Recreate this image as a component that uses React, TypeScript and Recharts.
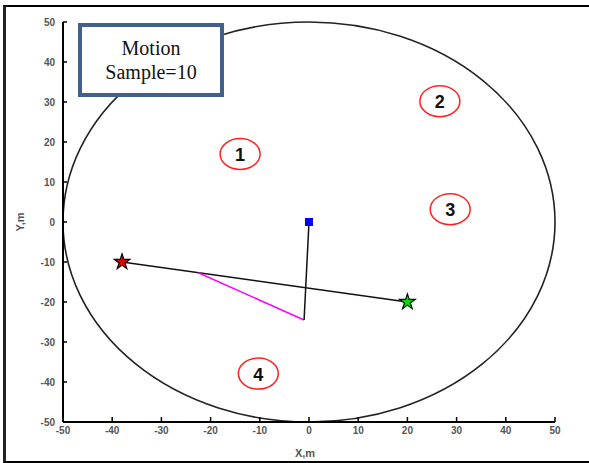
import * as React from "react"
import {
    ScatterChart,
    Scatter,
    XAxis,
    YAxis,
    ReferenceArea,
    Symbols,
} from "recharts"

// axis ticks (metres)
const xTicks = [-50, -40, -30, -20, -10, 0, 10, 20, 30, 40, 50]
const yTicks = [-50, -40, -30, -20, -10, 0, 10, 20, 30, 40, 50]

// coverage boundary radius
const RADIUS = 50

// marks
const startPoint = [{ x: -38, y: -10 }]
const endPoint = [{ x: 20, y: -20 }]
const anchorPoint = [{ x: 0, y: 0 }]
const pathLine = [{ x: -38, y: -10 }, { x: 20, y: -20 }]
const dropLine = [{ x: 0, y: 0 }, { x: -1, y: -24.5 }]
const projLine = [{ x: -22.5, y: -12.7 }, { x: -1, y: -24.5 }]
const regions = [
    { x: -14, y: 17, label: "1" },
    { x: 26.6, y: 30.2, label: "2" },
    { x: 28.7, y: 3.2, label: "3" },
    { x: -10.3, y: -37.9, label: "4" },
]

const tickStyle = { fontSize: 10, fontWeight: "bold", fill: "#555", fontFamily: "Arial, 'Liberation Sans', sans-serif" }

const noDot = () => <g />

const Ellipse = ({ x, y, width, height }: any) => (
    <ellipse
        cx={x + width / 2}
        cy={y + height / 2}
        rx={width / 2}
        ry={height / 2}
        fill="none"
        stroke="#222"
        strokeWidth={1.6}
    />
)

const star = (color: string) => (p: any) => (
    <Symbols cx={p.cx} cy={p.cy} type="star" size={75} fill={color} stroke="#000" strokeWidth={1.2} />
)

const square = (p: any) => <rect x={p.cx - 4} y={p.cy - 4} width={8} height={8} fill="#0000ff" />

const circledLabel = (p: any) => (
    <g>
        <ellipse cx={p.cx} cy={p.cy} rx={20} ry={15.5} fill="none" stroke="#ff2020" strokeWidth={1.5} />
        <text
            x={p.cx}
            y={p.cy + 1}
            textAnchor="middle"
            dominantBaseline="central"
            fontSize={18}
            fontWeight="bold"
            fontFamily="Arial, 'Liberation Sans', sans-serif"
            fill="#111"
        >
            {p.payload?.label}
        </text>
    </g>
)

export default function App() {
    return (
        <div style={{ position: "absolute", left: 0, top: 0, width: 589, height: 463, background: "#fff" }}>
            <div
                style={{
                    position: "absolute",
                    left: 3,
                    top: 5,
                    width: 600,
                    height: 454,
                    borderTop: "2px solid #000",
                    borderLeft: "3px solid #222",
                    borderBottom: "2px solid #000",
                }}
            />
            <div style={{ position: "absolute", left: 0, top: 0 }}>
                <ScatterChart width={589} height={463} margin={{ top: 22, right: 34, bottom: 11, left: 23 }}>
                    <XAxis
                        type="number"
                        dataKey="x"
                        domain={[-50, 50]}
                        ticks={xTicks}
                        height={30}
                        tickSize={-5}
                        tickMargin={10}
                        tick={tickStyle}
                        axisLine={{ stroke: "#000", strokeWidth: 2 }}
                        tickLine={{ stroke: "#000", strokeWidth: 1.5 }}
                        allowDataOverflow
                        label={({ viewBox }: any) => (
                            <text
                                x={viewBox.x + viewBox.width / 2 - 4}
                                y={viewBox.y + 31}
                                textAnchor="middle"
                                dominantBaseline="central"
                                fontSize={11}
                                fontWeight="bold"
                                fill="#555"
                                fontFamily="Arial, 'Liberation Sans', sans-serif"
                            >
                                X,m
                            </text>
                        )}
                    />
                    <YAxis
                        type="number"
                        dataKey="y"
                        domain={[-50, 50]}
                        ticks={yTicks}
                        width={40}
                        tickSize={-4}
                        tickMargin={12}
                        tick={tickStyle}
                        axisLine={{ stroke: "#000", strokeWidth: 2 }}
                        tickLine={{ stroke: "#000", strokeWidth: 1.5 }}
                        allowDataOverflow
                        label={({ viewBox }: any) => {
                            const cx = viewBox.x - 3
                            const cy = viewBox.y + viewBox.height / 2
                            return (
                                <text
                                    x={cx}
                                    y={cy}
                                    transform={`rotate(-90 ${cx} ${cy})`}
                                    textAnchor="middle"
                                    dominantBaseline="central"
                                    fontSize={11}
                                    fontWeight="bold"
                                    fill="#555"
                                    fontFamily="Arial, 'Liberation Sans', sans-serif"
                                >
                                    Y,m
                                </text>
                            )
                        }}
                    />
                    <ReferenceArea x1={-RADIUS} x2={RADIUS} y1={-RADIUS} y2={RADIUS} shape={Ellipse} ifOverflow="visible" />
                    <Scatter data={pathLine} fill="#111" line={{ stroke: "#111", strokeWidth: 1.5 }} shape={noDot} isAnimationActive={false} />
                    <Scatter data={projLine} fill="#ff00ff" line={{ stroke: "#ff00ff", strokeWidth: 1.5 }} shape={noDot} isAnimationActive={false} />
                    <Scatter data={dropLine} fill="#111" line={{ stroke: "#111", strokeWidth: 1.5 }} shape={noDot} isAnimationActive={false} />
                    <Scatter data={anchorPoint} shape={square} isAnimationActive={false} />
                    <Scatter data={startPoint} shape={star("#e00000")} isAnimationActive={false} />
                    <Scatter data={endPoint} shape={star("#00e000")} isAnimationActive={false} />
                    <Scatter data={regions} shape={circledLabel} isAnimationActive={false} />
                </ScatterChart>
            </div>
            <div
                style={{
                    position: "absolute",
                    left: 78,
                    top: 23,
                    width: 138,
                    height: 66,
                    border: "4px solid #41608c",
                    background: "#fff",
                    fontFamily: "'Liberation Serif', 'Times New Roman', serif",
                    fontSize: 20,
                    lineHeight: "24px",
                    textAlign: "center",
                    paddingTop: 0,
                    display: "flex",
                    flexDirection: "column",
                    justifyContent: "center",
                    color: "#111",
                }}
            >
                <div>Motion</div>
                <div>Sample=10</div>
            </div>
        </div>
    )
}
